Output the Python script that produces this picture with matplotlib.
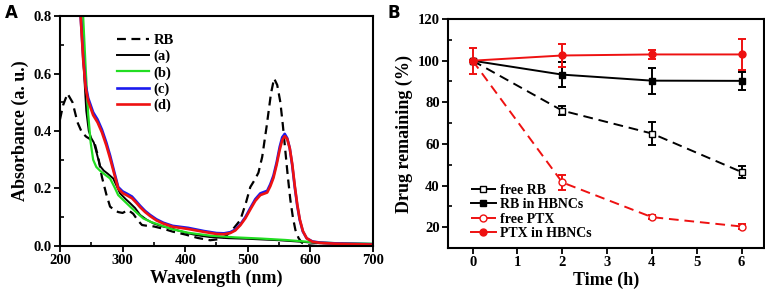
import numpy as np
import matplotlib.pyplot as plt
from matplotlib.ticker import MultipleLocator

# ---- panel A: UV-vis spectra ----
wl_rb = [200, 205, 212, 220, 228, 235, 242, 248, 256, 261, 267, 274, 280, 287, 293, 300, 309,
         317, 324, 331, 340, 350, 365, 380, 400, 420, 440, 455, 465, 475, 488, 497, 504, 511,
         517, 523, 530, 537, 542, 547, 552, 556, 560, 564, 568, 572, 576, 581, 586, 594, 610, 700]
ab_rb = [0.44, 0.49, 0.53, 0.50, 0.43, 0.395, 0.38, 0.372, 0.352, 0.31, 0.24, 0.18, 0.137, 0.125,
         0.118, 0.115, 0.125, 0.112, 0.09, 0.073, 0.07, 0.068, 0.06, 0.05, 0.04, 0.028, 0.02, 0.024,
         0.035, 0.055, 0.09, 0.15, 0.205, 0.23, 0.255, 0.31, 0.415, 0.53, 0.583, 0.56, 0.5, 0.42,
         0.33, 0.24, 0.16, 0.1, 0.056, 0.028, 0.012, 0.003, 0.0, 0.0]

wl_a = [234, 238, 242, 246, 250, 254, 259, 264, 270, 276, 285, 296, 305, 312, 320, 328, 338,
        349, 362, 376, 390, 405, 420, 440, 470, 500, 550, 590, 610, 650, 700]
ab_a = [0.8, 0.62, 0.47, 0.4, 0.375, 0.36, 0.32, 0.278, 0.262, 0.252, 0.235, 0.183, 0.163, 0.149,
        0.132, 0.108, 0.092, 0.079, 0.069, 0.062, 0.053, 0.044, 0.037, 0.031, 0.027, 0.025, 0.02,
        0.014, 0.01, 0.008, 0.007]

wl_b = [237, 241, 245, 249, 253, 258, 264, 272, 280, 287, 293, 302, 312, 322, 333, 346, 360,
        380, 405, 440, 480, 520, 560, 600, 640, 700]
ab_b = [0.8, 0.62, 0.46, 0.36, 0.3, 0.275, 0.262, 0.248, 0.235, 0.205, 0.177, 0.158, 0.137,
        0.117, 0.096, 0.083, 0.073, 0.058, 0.046, 0.036, 0.03, 0.026, 0.021, 0.014, 0.01, 0.008]

wl_cd = [233, 237, 241, 245, 249, 253, 260, 267, 274, 280, 287, 293, 300, 307, 315, 322, 328,
         336, 344, 354, 365, 380, 405, 430, 450, 462, 472, 480, 488, 496, 504, 512, 520, 526,
         531, 536, 541, 546, 551, 555, 559, 563, 567, 571, 575, 579, 583, 588, 594, 603, 615,
         640, 700]
ab_c = [0.8, 0.66, 0.56, 0.515, 0.49, 0.465, 0.44, 0.405, 0.36, 0.315, 0.255, 0.205, 0.19,
        0.182, 0.172, 0.155, 0.14, 0.122, 0.108, 0.093, 0.081, 0.07, 0.063, 0.052, 0.045, 0.044,
        0.048, 0.057, 0.075, 0.1, 0.132, 0.163, 0.183, 0.188, 0.192, 0.215, 0.245, 0.29, 0.345,
        0.378, 0.39, 0.375, 0.34, 0.28, 0.205, 0.14, 0.09, 0.05, 0.027, 0.016, 0.012, 0.009, 0.006]
ab_d = [0.8, 0.65, 0.55, 0.505, 0.48, 0.455, 0.43, 0.395, 0.35, 0.305, 0.248, 0.2, 0.184,
        0.176, 0.166, 0.15, 0.135, 0.118, 0.104, 0.089, 0.078, 0.067, 0.059, 0.049, 0.042, 0.041,
        0.045, 0.054, 0.072, 0.096, 0.127, 0.157, 0.177, 0.182, 0.186, 0.208, 0.237, 0.282, 0.335,
        0.368, 0.382, 0.372, 0.34, 0.285, 0.21, 0.145, 0.093, 0.052, 0.027, 0.015, 0.011, 0.008,
        0.005]

# ---- panel B: drug remaining ----
time_h = [0, 2, 4, 6]
free_rb = [100, 76.0, 65.0, 46.5]
free_rb_err = [0.5, 2.3, 5.5, 3.0]
rb_hbnc = [100, 93.3, 90.4, 90.3]
rb_hbnc_err = [0.5, 6.0, 6.3, 4.5]
free_ptx = [100, 41.5, 24.8, 20.3]
free_ptx_err = [0.5, 3.5, 0.8, 1.0]
ptx_hbnc = [100, 102.5, 103.0, 103.0]
ptx_hbnc_err = [6.3, 5.5, 2.2, 7.5]

plt.rcParams['font.family'] = 'Liberation Serif'
plt.rcParams['font.weight'] = 'bold'
plt.rcParams['axes.labelweight'] = 'bold'
plt.rcParams['axes.linewidth'] = 1.5

fig = plt.figure(figsize=(7.65, 2.98), dpi=100)
ax = fig.add_axes([0.0784, 0.1745, 0.4092, 0.7718])
bx = fig.add_axes([0.5856, 0.168, 0.413, 0.768])

green = '#22dd22'
ax.plot(wl_rb, ab_rb, color='black', lw=1.6, dashes=(4, 2.5), label='RB')
ax.plot(wl_a, ab_a, color='black', lw=1.4, label='(a)')
ax.plot(wl_b, ab_b, color=green, lw=1.6, label='(b)')
ax.plot(wl_cd, ab_c, color='#1a1aee', lw=1.9, label='(c)')
ax.plot(wl_cd, ab_d, color='#ee1111', lw=1.9, label='(d)')
ax.set_xlim(200, 700)
ax.set_ylim(0, 0.8)
ax.xaxis.set_major_locator(MultipleLocator(100))
ax.xaxis.set_minor_locator(MultipleLocator(50))
ax.yaxis.set_major_locator(MultipleLocator(0.2))
ax.yaxis.set_minor_locator(MultipleLocator(0.1))
ax.set_xlabel('Wavelength (nm)', fontsize=13, labelpad=2)
ax.set_ylabel('Absorbance (a. u.)', fontsize=13, labelpad=3)
ax.legend(loc='upper left', bbox_to_anchor=(0.16, 0.955), frameon=False, fontsize=10.5,
          handlelength=2.2, handletextpad=0.3, labelspacing=0.2, borderpad=0)

red = '#ee1111'
series = [
    (free_rb, free_rb_err, 'black', (5, 3), 's', 'white', 'free RB'),
    (rb_hbnc, rb_hbnc_err, 'black', None, 's', 'black', 'RB in HBNCs'),
    (free_ptx, free_ptx_err, red, (5, 3), 'o', 'white', 'free PTX'),
    (ptx_hbnc, ptx_hbnc_err, red, None, 'o', red, 'PTX in HBNCs'),
]
for vals, errs, col, dash, mk, face, lab in series:
    bx.errorbar(time_h, vals, yerr=errs, fmt='none', ecolor=col, elinewidth=1.4,
                capsize=3, capthick=1.4)
    line, = bx.plot(time_h, vals, color=col, lw=1.4, marker=mk, ms=5, mfc=face,
                    mec=col, label=lab)
    if dash:
        line.set_dashes(dash)
bx.set_xlim(-0.55, 6.5)
bx.set_ylim(10, 120)
bx.xaxis.set_major_locator(MultipleLocator(1))
bx.yaxis.set_major_locator(MultipleLocator(20))
bx.yaxis.set_minor_locator(MultipleLocator(10))
bx.set_xlabel('Time (h)', fontsize=13, labelpad=2)
bx.set_ylabel('Drug remaining (%)', fontsize=13, labelpad=3)
bx.legend(loc='upper left', bbox_to_anchor=(0.05, 0.31), frameon=False, fontsize=10,
          handlelength=1.8, handletextpad=0.3, labelspacing=0.1, borderpad=0)

for a in (ax, bx):
    a.tick_params(which='major', direction='out', length=4, width=1.3, labelsize=10.5, pad=2)
    a.tick_params(which='minor', direction='in', length=3, width=1.2)
    for lab in a.get_xticklabels() + a.get_yticklabels():
        lab.set_fontweight('bold')

fig.text(0.006, 0.985, 'A', fontsize=12, fontweight='bold', family='DejaVu Sans', va='top')
fig.text(0.506, 0.985, 'B', fontsize=12, fontweight='bold', family='DejaVu Sans', va='top')

fig.savefig('out.png', dpi=100)
